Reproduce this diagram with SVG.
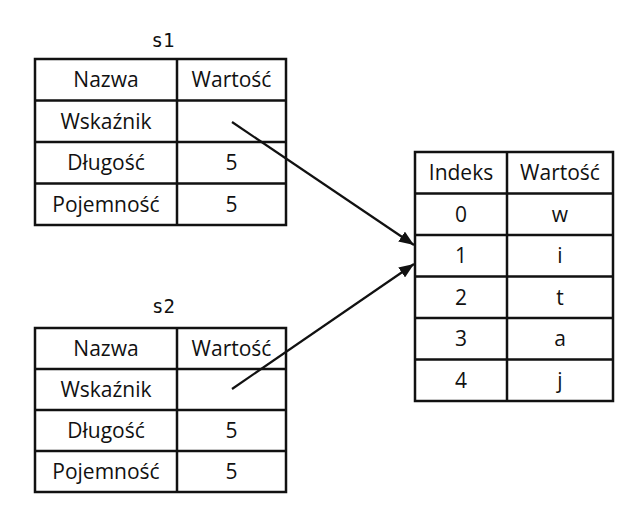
<svg xmlns="http://www.w3.org/2000/svg" width="636" height="510" viewBox="0 0 636 510">
<style>
.cell{fill:#fff;stroke:#111;stroke-width:2.5}
.grid{stroke:#111;stroke-width:2.5;fill:none}
.t{font-family:"Open Sans","Noto Sans","Liberation Sans",sans-serif;font-size:21px;fill:#111;text-anchor:middle}
.lbl{font-family:"DejaVu Sans Mono","Liberation Mono",monospace;font-size:19px;fill:#111;text-anchor:middle}
.conn{stroke:#111;stroke-width:2.2;fill:none}
</style>
<defs>
<marker id="ah" markerUnits="userSpaceOnUse" markerWidth="17" markerHeight="12" refX="15" refY="6" orient="auto">
<path d="M0,0 L15,6 L0,12 Z" fill="#111"/>
</marker>
</defs>
<rect width="636" height="510" fill="#fff"/>
<g id="s1">
<text class="lbl" x="163" y="47">s1</text>
<rect class="cell" x="35" y="59" width="251" height="166"/>
<path class="grid" d="M177,59V225M35,100.5H286M35,142H286M35,183.5H286"/>
<text class="t" x="106" y="87">Nazwa</text>
<text class="t" x="231.5" y="87">Wartość</text>
<text class="t" x="106" y="128.5">Wskaźnik</text>
<text class="t" x="106" y="170">Długość</text>
<text class="t" x="231.5" y="170">5</text>
<text class="t" x="106" y="211.5">Pojemność</text>
<text class="t" x="231.5" y="211.5">5</text>
</g>
<g id="s2">
<text class="lbl" x="163.5" y="313">s2</text>
<rect class="cell" x="35" y="328" width="251" height="164"/>
<path class="grid" d="M177,328V492M35,369H286M35,410H286M35,451H286"/>
<text class="t" x="106" y="356">Nazwa</text>
<text class="t" x="231.5" y="356">Wartość</text>
<text class="t" x="106" y="397">Wskaźnik</text>
<text class="t" x="106" y="438">Długość</text>
<text class="t" x="231.5" y="438">5</text>
<text class="t" x="106" y="479">Pojemność</text>
<text class="t" x="231.5" y="479">5</text>
</g>
<g id="array">
<rect class="cell" x="415" y="152" width="198" height="249"/>
<path class="grid" d="M507,152V401M415,193.5H613M415,235H613M415,276.5H613M415,318H613M415,359.5H613"/>
<text class="t" x="461" y="180">Indeks</text>
<text class="t" x="560" y="180">Wartość</text>
<text class="t" x="461" y="221.5">0</text>
<text class="t" x="560" y="221.5">w</text>
<text class="t" x="461" y="263">1</text>
<text class="t" x="560" y="263">i</text>
<text class="t" x="461" y="304.5">2</text>
<text class="t" x="560" y="304.5">t</text>
<text class="t" x="461" y="346">3</text>
<text class="t" x="560" y="346">a</text>
<text class="t" x="461" y="387.5">4</text>
<text class="t" x="560" y="387.5">j</text>
</g>
<g id="connectors">
<line class="conn" x1="232" y1="122" x2="414" y2="245" marker-end="url(#ah)"/>
<line class="conn" x1="232" y1="389" x2="414" y2="264" marker-end="url(#ah)"/>
</g>
</svg>
